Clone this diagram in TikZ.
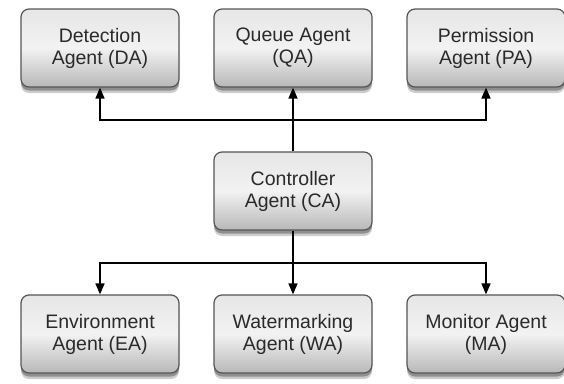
\documentclass[tikz,border=0pt]{standalone}
\usepackage{fontspec}
\setmainfont{Liberation Sans}
\usetikzlibrary{arrows.meta,shadows}
\definecolor{boxborder}{HTML}{555555}
\definecolor{boxtop}{HTML}{E6E6E6}
\definecolor{boxbot}{HTML}{B8B8B8}
\definecolor{txt}{HTML}{2A2A2A}
\begin{document}
\begin{tikzpicture}[x=1pt,y=-1pt,
  agent/.style={draw=boxborder, line width=1.2pt, rounded corners=8pt,
    minimum width=158pt, minimum height=78pt, inner sep=0pt,
    top color=boxtop, bottom color=boxbot, middle color=gray!10,
    align=center, text=txt, font=\fontsize{19.5}{22}\selectfont,
    drop shadow={shadow xshift=0pt, shadow yshift=-6pt, opacity=0.2, fill=black},
    drop shadow={shadow xshift=0pt, shadow yshift=-3.5pt, opacity=0.3, fill=black}},
  arr/.style={line width=1.6pt, -{Triangle[length=11pt,width=9pt]}}]
\useasboundingbox (0,0) rectangle (564,383);
\node[agent] (DA) at (100,48) {Detection\\Agent (DA)};
\node[agent] (QA) at (293,48) {Queue Agent\\(QA)};
\node[agent] (PA) at (486,48) {Permission\\Agent (PA)};
\node[agent] (CA) at (293,191) {Controller\\Agent (CA)};
\node[agent] (EA) at (100,334) {Environment\\Agent (EA)};
\node[agent] (WA) at (293,334) {Watermarking\\Agent (WA)};
\node[agent] (MA) at (486,334) {Monitor Agent\\(MA)};
\coordinate (tj) at (293,120);
\coordinate (bj) at (293,263);
\draw[arr] (CA.north) -- (QA.south);
\draw[arr] (tj) -| (DA.south);
\draw[arr] (tj) -| (PA.south);
\draw[arr] (CA.south) -- (WA.north);
\draw[arr] (bj) -| (EA.north);
\draw[arr] (bj) -| (MA.north);
\end{tikzpicture}
\end{document}
